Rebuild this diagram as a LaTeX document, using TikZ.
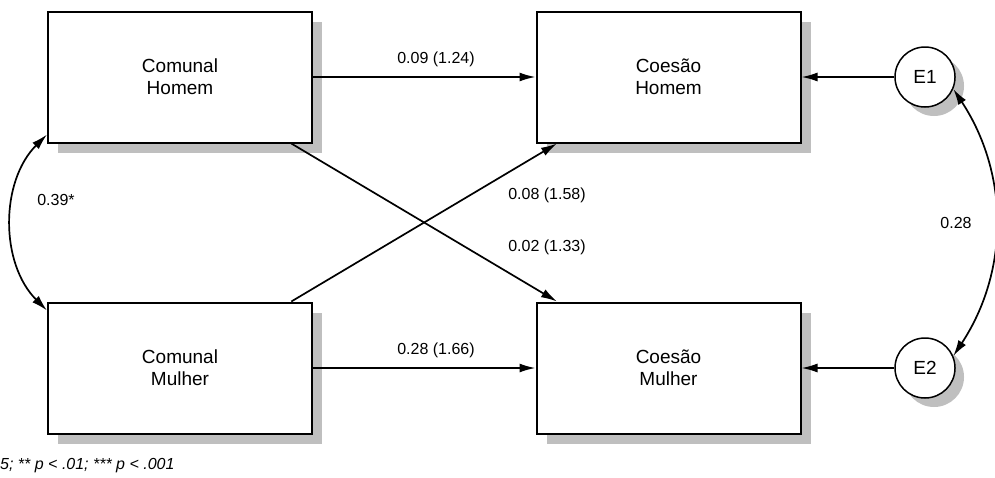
\documentclass[tikz,border=0pt]{standalone}
\usepackage{fontspec}
\setmainfont{Liberation Sans}
\usetikzlibrary{arrows.meta,shadows}

\tikzset{
  var/.style={draw, line width=2pt, fill=white, minimum width=264pt, minimum height=131pt, inner sep=0pt, align=center,
    font=\fontsize{19}{22}\selectfont, drop shadow={shadow xshift=10pt, shadow yshift=-10pt, fill=black!25, opacity=1}},
  err/.style={draw, circle, line width=1.5pt, fill=white, minimum size=60pt, inner sep=0pt,
    font=\fontsize{19}{22}\selectfont, drop shadow={shadow xshift=9pt, shadow yshift=-9pt, fill=black!25, opacity=1}},
  effect/.style={line width=1.7pt, -{Latex[length=16pt,width=9pt]}},
  cov/.style={line width=1.7pt, {Latex[length=16pt,width=9pt]}-{Latex[length=16pt,width=9pt]}},
  coef/.style={font=\fontsize{16}{19}\selectfont, inner sep=0pt}
}

\begin{document}
\begin{tikzpicture}[x=1pt,y=-1pt]
\useasboundingbox (0,0) rectangle (995,477);
\node[var] (ch) at (180,77) {Comunal\\Homem};
\node[var] (cm) at (180,368) {Comunal\\Mulher};
\node[var] (coh) at (668.5,77) {Coesão\\Homem};
\node[var] (com) at (668.5,368) {Coesão\\Mulher};
\node[err] (e1) at (925,77) {E1};
\node[err] (e2) at (925,368) {E2};
\draw[effect] (ch) -- (coh);
\draw[effect] (cm) -- (com);
\draw[effect] (ch) -- (com);
\draw[effect] (cm) -- (coh);
\draw[effect] (e1) -- (coh);
\draw[effect] (e2) -- (com);
\draw[cov] ([yshift=9pt]ch.south west) .. controls +(-47,47) and +(-47,-47) .. ([yshift=-9pt]cm.north west);
\draw[cov] (e1.-23) .. controls +(56,85) and +(56,-85) .. (e2.23);
\node[coef] (b1) at (436,59) {0.09 (1.24)};
\node[coef] (b2) at (436,350) {0.28 (1.66)};
\node[coef] (b3) at (547,195) {0.08 (1.58)};
\node[coef] (b4) at (547,247) {0.02 (1.33)};
\node[coef] (r1) at (56,200) {0.39*};
\node[coef] (r2) at (956,223) {0.28};
\node[coef, anchor=west, font=\fontsize{16}{19}\selectfont\itshape] (note) at (0,466) {5; ** p < .01; *** p < .001};
\end{tikzpicture}
\end{document}
